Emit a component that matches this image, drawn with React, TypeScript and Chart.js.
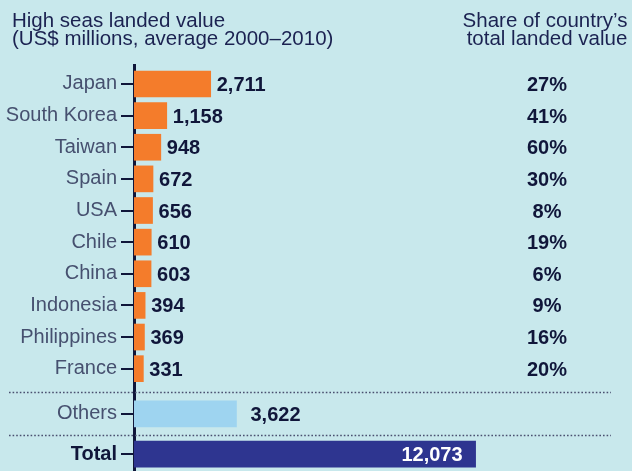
import React, { useEffect, useRef } from "react";
import { Chart, registerables } from "chart.js";

Chart.register(...registerables);

const countries = ["Japan", "South Korea", "Taiwan", "Spain", "USA", "Chile", "China", "Indonesia", "Philippines", "France"];
const countryValues = [2711, 1158, 948, 672, 656, 610, 603, 394, 369, 331];
const countryShares = ["27%", "41%", "60%", "30%", "8%", "19%", "6%", "9%", "16%", "20%"];
const othersLabel = "Others";
const othersValue = 3622;
const totalLabel = "Total";
const totalValue = 12073;
const headerLeft = ["High seas landed value", "(US$ millions, average 2000\u20132010)"];
const headerRight = ["Share of country\u2019s", "total landed value"];

const FONT = "'Liberation Sans', Arial, Helvetica, sans-serif";
const BG = "#c8e8ec";
const NAVY = "#10163a";
const LABEL_GREY = "#46506f";
const ORANGE = "#f47c2b";
const LIGHT_BLUE = "#9ed4f0";
const TOTAL_BLUE = "#2e3590";

// extra vertical offset (in row units) for each group: countries, others, total
const groupOffsets = [0, 0.43, 0.7];

type Row = { label: string; value: number; group: number; share?: string; pos: number };

function buildRows(): Row[] {
  const rows: Row[] = [];
  countries.forEach((c, i) => rows.push({ label: c, value: countryValues[i], group: 0, share: countryShares[i], pos: 0 }));
  rows.push({ label: othersLabel, value: othersValue, group: 1, pos: 0 });
  rows.push({ label: totalLabel, value: totalValue, group: 2, pos: 0 });
  rows.forEach((r, i) => (r.pos = i + groupOffsets[r.group]));
  return rows;
}

export default function App() {
  const ref = useRef<HTMLCanvasElement | null>(null);

  useEffect(() => {
    document.body.style.margin = "0";
    document.body.style.background = BG;
    const rows = buildRows();
    const colors = rows.map((r) => (r.group === 0 ? ORANGE : r.group === 1 ? LIGHT_BLUE : TOTAL_BLUE));
    const lastIdx = rows.length - 1;

    const overlay = {
      id: "overlay",
      beforeDraw(chart: any) {
        const { ctx } = chart;
        ctx.save();
        ctx.fillStyle = BG;
        ctx.fillRect(0, 0, chart.width, chart.height);
        ctx.restore();
      },
      afterDraw(chart: any) {
        const { ctx } = chart;
        const xs = chart.scales.x;
        const ys = chart.scales.y;
        ctx.save();
        // headers
        ctx.font = `20.5px ${FONT}`;
        ctx.fillStyle = "#1b2251";
        ctx.textBaseline = "alphabetic";
        ctx.textAlign = "left";
        ctx.fillText(headerLeft[0], 12, 26.5);
        ctx.fillText(headerLeft[1], 12, 44.5);
        ctx.textAlign = "center";
        ctx.fillText(headerRight[0], 545, 26.5);
        ctx.fillText(headerRight[1], 547, 44.5);

        // dotted separators
        ctx.strokeStyle = "#4a5070";
        ctx.lineWidth = 1.6;
        ctx.setLineDash([1.6, 2]);
        for (let i = 1; i < rows.length; i++) {
          if (rows[i].group !== rows[i - 1].group) {
            const y = Math.round(ys.getPixelForValue((rows[i].pos + rows[i - 1].pos) / 2)) + 1.5;
            ctx.beginPath();
            ctx.moveTo(9, y);
            ctx.lineTo(611, y);
            ctx.stroke();
          }
        }
        ctx.setLineDash([]);

        // value labels and shares
        ctx.font = `bold 20px ${FONT}`;
        rows.forEach((r) => {
          const yc = ys.getPixelForValue(r.pos);
          const xe = xs.getPixelForValue(r.value);
          const text = r.value.toLocaleString("en-US");
          if (r.group === 2) {
            ctx.fillStyle = "#ffffff";
            ctx.textAlign = "right";
            ctx.fillText(text, xe - 13, yc + 7);
          } else {
            ctx.fillStyle = NAVY;
            ctx.textAlign = "left";
            ctx.fillText(text, xe + (r.group === 1 ? 14 : 6), yc + 7);
          }
          if (r.share) {
            ctx.fillStyle = NAVY;
            ctx.textAlign = "center";
            ctx.fillText(r.share, 547, yc + 7);
          }
        });
        ctx.restore();
      },
    };

    const chart = new Chart(ref.current as HTMLCanvasElement, {
      type: "bar",
      data: {
        datasets: [
          {
            data: rows.map((r) => ({ x: r.value, y: r.pos })),
            backgroundColor: colors,
            barThickness: 26,
            borderWidth: 0,
          },
        ],
      },
      options: {
        indexAxis: "y",
        animation: false,
        responsive: false,
        maintainAspectRatio: false,
        layout: { padding: { top: 65, left: 0, right: 0, bottom: 0 } },
        plugins: { legend: { display: false }, tooltip: { enabled: false } },
        scales: {
          x: { type: "linear", min: 0, max: 17600, display: false },
          y: {
            type: "linear",
            reverse: true,
            offset: false,
            min: -0.6,
            max: 12.235,
            afterBuildTicks: (scale: any) => {
              scale.ticks = rows.map((r) => ({ value: r.pos }));
            },
            afterFit: (scale: any) => {
              scale.width = 134;
              scale.paddingTop = 0;
              scale.paddingBottom = 0;
            },
            ticks: {
              autoSkip: false,
              padding: 4,
              callback: (_v: any, i: number) => rows[i]?.label ?? "",
              font: (c: any) => ({ family: FONT, size: 20, weight: c.index === lastIdx ? "bold" : "normal" }),
              color: (c: any) => (c.index === lastIdx ? NAVY : LABEL_GREY),
            },
            grid: {
              offset: false,
              drawOnChartArea: false,
              drawTicks: true,
              tickLength: 13,
              tickWidth: 2,
              tickColor: NAVY,
              color: NAVY,
              lineWidth: 2,
            },
            border: { display: true, color: NAVY, width: 3 },
          },
        },
      } as any,
      plugins: [overlay],
    });
    return () => chart.destroy();
  }, []);

  return (
    <div style={{ width: 632, height: 471, background: BG }}>
      <canvas ref={ref} width={632} height={471} style={{ display: "block" }} />
    </div>
  );
}
